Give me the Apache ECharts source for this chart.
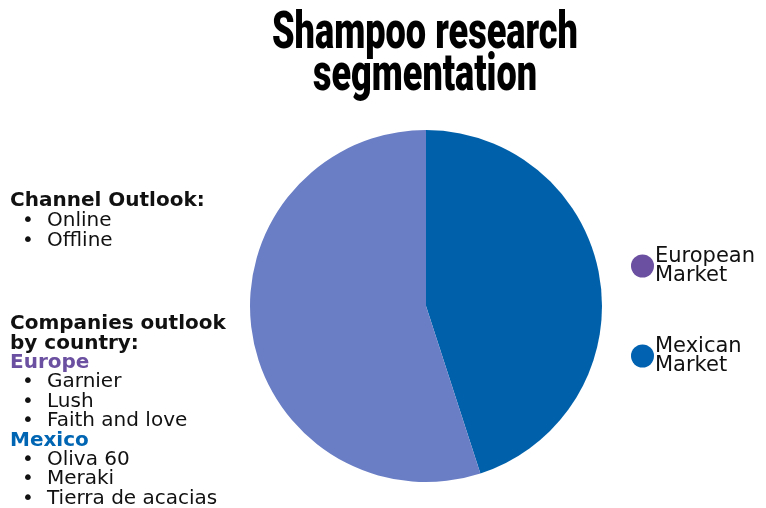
<!DOCTYPE html>
<html><head><meta charset="utf-8">
<script src="https://cdn.jsdelivr.net/npm/echarts@6/dist/echarts.min.js"></script>
<style>html,body{margin:0;padding:0;background:#fff}#c{width:766px;height:508px}</style>
</head><body><div id="c"></div>
<script>
const categories = ['Mexican Market', 'European Market'];
const values = [45, 55];
const sliceColors = ['#0061AA', '#6A7EC5'];
const legendOrder = ['European Market', 'Mexican Market'];
const legendColors = {'European Market': '#6B4FA0', 'Mexican Market': '#0062B0'};
const titleLines = ['Shampoo research', 'segmentation'];
const channelHeader = 'Channel Outlook:';
const channelItems = ['Online', 'Offline'];
const companiesHeader = ['Companies outlook', 'by country:'];
const europeLabel = 'Europe';
const europeItems = ['Garnier', 'Lush', 'Faith and love'];
const mexicoLabel = 'Mexico';
const mexicoItems = ['Oliva 60', 'Meraki', 'Tierra de acacias'];

const chart = echarts.init(document.getElementById('c'));
const bodyFont = 'DejaVu Sans';
const bodySize = 20;

// measure title for horizontal compression
const cv = document.createElement('canvas').getContext('2d');
const titleFont = '900 52px Roboto';
cv.font = titleFont;
const titleTargets = [306, 224];
const titleBase = [53, 95];
const graphics = [];
titleLines.forEach((t, i) => {
  const w = cv.measureText(t).width;
  graphics.push({
    type: 'text', x: 425, y: titleBase[i] - 18,
    scaleX: titleTargets[i] / w,
    style: {text: t, font: titleFont, fill: '#000', align: 'center', verticalAlign: 'middle'}
  });
});

function line(text, baseline, opts) {
  opts = opts || {};
  const x = opts.bullet ? 47 : 10;
  if (opts.bullet) {
    graphics.push({type: 'text', x: 22, y: baseline - 7,
      style: {text: '•', fontFamily: bodyFont, fontSize: bodySize, fill: '#111', verticalAlign: 'middle'}});
  }
  graphics.push({type: 'text', x: x, y: baseline - 7,
    style: {text: text, fontFamily: bodyFont, fontSize: bodySize, fontWeight: opts.bold ? 'bold' : 'normal',
      fill: opts.color || '#111', verticalAlign: 'middle'}});
}
line(channelHeader, 208, {bold: true});
channelItems.forEach((t, i) => line(t, 228 + 20 * i, {bullet: true}));
const rows = [];
companiesHeader.forEach(t => rows.push([t, {bold: true}]));
rows.push([europeLabel, {bold: true, color: '#6B4FA0'}]);
europeItems.forEach(t => rows.push([t, {bullet: true}]));
rows.push([mexicoLabel, {bold: true, color: '#0066B3'}]);
mexicoItems.forEach(t => rows.push([t, {bullet: true}]));
rows.forEach((r, i) => line(r[0], 331 + 19.4 * i, r[1]));

chart.setOption({
  animation: false,
  graphic: graphics,
  legend: {
    orient: 'vertical', left: 626, top: 241,
    itemWidth: 23, itemHeight: 23, itemGap: 50, icon: 'circle',
    selectedMode: false,
    data: legendOrder.map(n => ({name: n, itemStyle: {color: legendColors[n]}})),
    formatter: n => n.replace(' ', '\n'),
    textStyle: {fontFamily: bodyFont, fontSize: 21, lineHeight: 19, color: '#111', padding: [0, 0, 0, -4]}
  },
  series: [{
    type: 'pie', center: [426, 306], radius: 176, startAngle: 90, clockwise: true,
    label: {show: false}, labelLine: {show: false},
    data: categories.map((c, i) => ({name: c, value: values[i], itemStyle: {color: sliceColors[i]}}))
  }]
});
</script></body></html>
